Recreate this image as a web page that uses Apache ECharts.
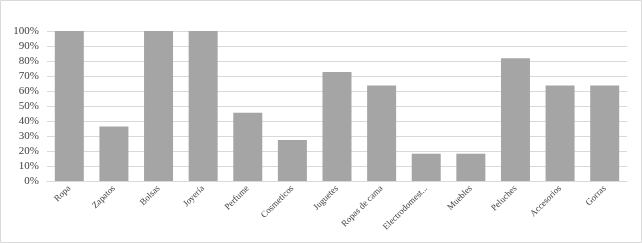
<!DOCTYPE html>
<html><head><meta charset="utf-8">
<script src="https://cdn.jsdelivr.net/npm/echarts@6/dist/echarts.min.js"></script>
<style>html,body{margin:0;padding:0;background:#fff}#c{width:642px;height:243px}</style>
</head><body><div id="c"></div>
<script>
const categories = ["Ropa","Zapatos","Bolsas","Joyería","Perfume","Cosmeticos","Juguetes","Ropas de cama","Electrodomest...","Muebles","Peluches","Accesorios","Gorras"];
const values = [100, 36.4, 100, 100, 45.5, 27.3, 72.7, 63.6, 18.2, 18.2, 81.8, 63.6, 63.6];
const yTicks = [0,10,20,30,40,50,60,70,80,90,100];

const chart = echarts.init(document.getElementById('c'), null, {renderer:'canvas'});
chart.setOption({
  animation:false,
  graphic:[{type:'rect',shape:{x:0.5,y:0.5,width:641,height:242},style:{fill:'none',stroke:'#d9d9d9',lineWidth:1},silent:true}],
  grid:{left:47,right:15,top:31,bottom:62,containLabel:false},
  xAxis:{type:'category',data:categories,
    axisLine:{lineStyle:{color:'#d9d9d9'}},axisTick:{show:false},
    axisLabel:{interval:0,rotate:45,fontFamily:'Liberation Serif',fontSize:9,color:'#404040',margin:6}},
  yAxis:{type:'value',min:0,max:100,interval:10,
    axisLine:{show:false},axisTick:{show:false},
    splitLine:{lineStyle:{color:'#d9d9d9'}},
    axisLabel:{formatter:v=>v+'%',fontFamily:'Liberation Serif',fontSize:11,color:'#404040',margin:8}},
  series:[{type:'bar',data:values,barCategoryGap:'35%',itemStyle:{color:'#a5a5a5'}}]
});
</script></body></html>
